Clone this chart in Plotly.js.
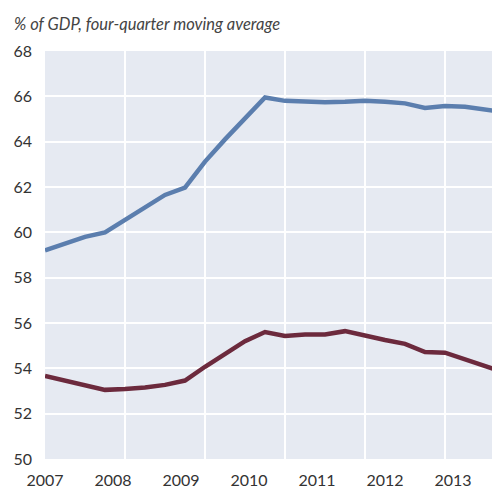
<!DOCTYPE html>
<html>
<head>
<meta charset="utf-8">
<script src="https://cdn.plot.ly/plotly-3.0.1.min.js"></script>
<style>html,body{margin:0;padding:0;background:#fff;}#chart{width:492px;height:492px;}</style>
</head>
<body>
<div id="chart"></div>
<script>
// Quarterly index from 2007 Q1 (0) onwards
const quarters = [0,1,2,3,4,5,6,7,8,9,10,11,12,13,14,15,16,17,18,19,20,21,22,23];
const seriesBlue = [59.2,59.5,59.8,60.0,60.55,61.13,61.65,61.97,63.12,64.1,65.0,65.95,65.8,65.76,65.74,65.76,65.81,65.76,65.69,65.49,65.57,65.54,65.43,65.3];
const seriesRed = [53.66,53.45,53.22,53.05,53.09,53.15,53.27,53.46,54.07,54.66,55.2,55.6,55.43,55.49,55.49,55.64,55.43,55.25,55.08,54.72,54.69,54.4,54.07,53.8];
const yearLabels = ['2007','2008','2009','2010','2011','2012','2013'];
const yearTickVals = [2007,2008,2009,2010,2011,2012,2013];
const yTicks = [50,52,54,56,58,60,62,64,66,68];
const titleText = '% of GDP, four-quarter moving average';

const font = 'Lato, "Open Sans", sans-serif';
const traces = [
  {x: quarters, y: seriesBlue, type: 'scatter', mode: 'lines', line: {color: '#5b7eae', width: 4.5}, hoverinfo: 'skip'},
  {x: quarters, y: seriesRed, type: 'scatter', mode: 'lines', line: {color: '#6c2a3d', width: 4.5}, hoverinfo: 'skip'},
  {x: [2007, 2013], y: [50, 50], xaxis: 'x2', type: 'scatter', mode: 'markers', marker: {opacity: 0}, hoverinfo: 'skip'}
];
const layout = {
  width: 492, height: 492,
  margin: {l: 45, r: 0, t: 51, b: 33, pad: 0},
  paper_bgcolor: '#ffffff',
  plot_bgcolor: '#e6eaf2',
  showlegend: false,
  font: {family: font, size: 16, color: '#333333'},
  xaxis: {
    range: [0, 22.35], tickvals: [4, 8, 12, 16, 20], showticklabels: false,
    showgrid: true, gridcolor: '#ffffff', gridwidth: 2, zeroline: false, showline: false, ticks: ''
  },
  xaxis2: {
    overlaying: 'x', side: 'bottom', range: [2007, 2007 + 447/68],
    tickvals: yearTickVals, ticktext: yearLabels, showgrid: false, zeroline: false,
    showline: false, ticks: '', ticklabelstandoff: 10, tickfont: {size: 16, color: '#333333'}
  },
  yaxis: {
    range: [50, 68], tickvals: yTicks, ticktext: yTicks.map(String),
    showgrid: true, gridcolor: '#ffffff', gridwidth: 2, zeroline: false, showline: false,
    ticks: '', ticklabelstandoff: 12, tickfont: {size: 16, color: '#333333'}
  },
  annotations: [{
    text: '<i>' + titleText + '</i>', xref: 'paper', yref: 'paper', x: -33/447, y: 1, xanchor: 'left', yanchor: 'bottom',
    yshift: 15, showarrow: false, font: {size: 16.5, color: '#444444', family: font}
  }]
};
Plotly.newPlot('chart', traces, layout, {staticPlot: true, displayModeBar: false});
</script>
</body>
</html>
